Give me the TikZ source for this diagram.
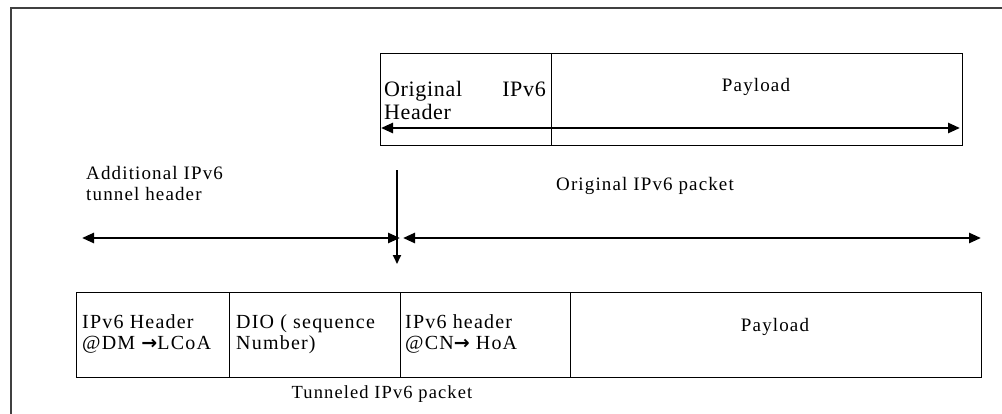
\documentclass[tikz,border=0pt]{standalone}
\usepackage{fontspec}
\setmainfont{Liberation Serif}
\newfontfamily\lsfont[LetterSpace=6]{Liberation Serif}
\newfontfamily\hdfont[LetterSpace=3]{Liberation Serif}
\newfontfamily\arrfont{DejaVu Sans}
\newcommand{\rarr}{{\arrfont\bfseries\fontsize{19}{19}\selectfont →}}
\usetikzlibrary{arrows.meta}
\tikzset{
  x=1pt, y=-1pt,
  cell/.style={draw=black, line width=1.3pt, inner sep=0pt},
  frameline/.style={draw=black!75, line width=1.3pt},
  txt/.style={inner sep=0pt, font=\lsfont\fontsize{19}{22}\selectfont},
  celltxt/.style={inner sep=0pt, font=\lsfont\fontsize{20}{22}\selectfont},
  captxt/.style={inner sep=0pt, font=\lsfont\fontsize{18.5}{21}\selectfont},
  hdtxt/.style={inner sep=0pt, font=\hdfont\fontsize{22}{25}\selectfont},
  bigarrow/.style={line width=2.6pt, {Triangle[length=12pt,width=10pt]}-{Triangle[length=12pt,width=10pt]}},
  downarrow/.style={line width=2pt, -{Triangle[length=9pt,width=8pt]}}
}
\begin{document}
\begin{tikzpicture}
\useasboundingbox (0,0) rectangle (1002,413);
% outer frame (open to right and bottom)
\coordinate (fbl) at (11,414);
\coordinate (ftl) at (11,8);
\coordinate (ftr) at (1003,8);
\draw[frameline] (fbl) -- (ftl) -- (ftr);

% top box: original IPv6 packet
\node[cell, minimum width=171pt, minimum height=92pt, anchor=north west] (oh) at (380,53) {};
\node[cell, minimum width=411pt, minimum height=92pt, anchor=north west] (op) at (551,53) {};
\node[hdtxt, anchor=base west] (t1) at (384,96) {Original};
\node[hdtxt, anchor=base east] (t2) at (546,96) {IPv6};
\node[hdtxt, anchor=base west] (t3) at (384,119) {Header};
\node[txt, anchor=base] (t4) at (756,91) {Payload};
\coordinate (a1l) at (381,128);
\coordinate (a1r) at (960,128);
\draw[bigarrow] (a1l) -- (a1r);

% middle labels and arrows
\node[txt, anchor=base west] (l1) at (86,179) {Additional IPv6};
\node[txt, anchor=base west] (l2) at (86,200) {tunnel header};
\node[txt, anchor=base] (l3) at (645,190) {Original IPv6 packet};
\coordinate (vt) at (397,170);
\coordinate (vb) at (397,264);
\draw[downarrow] (vt) -- (vb);
\coordinate (a2l) at (82,238);
\coordinate (a2r) at (400,238);
\draw[bigarrow] (a2l) -- (a2r);
\coordinate (a3l) at (403,238);
\coordinate (a3r) at (981,238);
\draw[bigarrow] (a3l) -- (a3r);

% bottom box: tunneled packet
\node[cell, minimum width=153pt, minimum height=85pt, anchor=north west] (b1) at (76,292) {};
\node[cell, minimum width=171pt, minimum height=85pt, anchor=north west] (b2) at (229,292) {};
\node[cell, minimum width=170pt, minimum height=85pt, anchor=north west] (b3) at (400,292) {};
\node[cell, minimum width=411pt, minimum height=85pt, anchor=north west] (b4) at (570,292) {};
\node[celltxt, anchor=base west] (c1a) at (82,328) {IPv6 Header};
\node[celltxt, anchor=base west] (c1b) at (82,349) {@DM \rarr LCoA};
\node[celltxt, anchor=base west] (c2a) at (236,328) {DIO ( sequence};
\node[celltxt, anchor=base west] (c2b) at (236,349) {Number)};
\node[celltxt, anchor=base west] (c3a) at (405,328) {IPv6 header};
\node[celltxt, anchor=base west] (c3b) at (405,349) {@CN\rarr\ HoA};
\node[txt, anchor=base] (c4) at (775,331) {Payload};
\node[captxt, anchor=base] (cap) at (382,398) {Tunneled IPv6 packet};
\end{tikzpicture}
\end{document}
